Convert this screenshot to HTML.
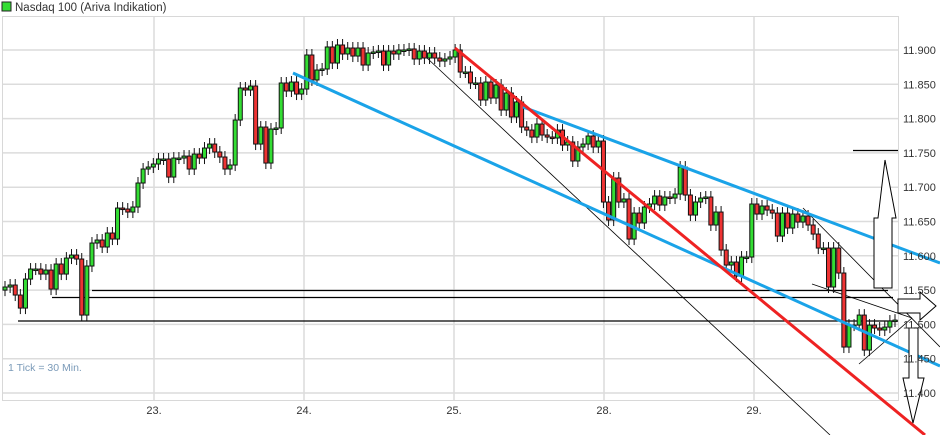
<!DOCTYPE html>
<html><head><meta charset="utf-8"><style>
body{margin:0;background:#fff;font-family:"Liberation Sans",sans-serif}
svg{display:block}
</style></head><body>
<svg id="chart" width="940" height="435" viewBox="0 0 940 435">
<rect x="0" y="0" width="940" height="435" fill="#fff"/>
<g>
<rect x="2" y="2" width="9" height="9" fill="#33dd33" stroke="#222" stroke-width="1"/>
<text x="15" y="11" font-size="11.5" fill="#333">Nasdaq 100 (Ariva Indikation)</text>
</g>
<g id="grid"></g>
<rect x="2.5" y="16.5" width="896" height="384" fill="none" stroke="#d8d8d8"/>
<g id="annot" fill="none">
<line x1="18" y1="321" x2="898" y2="321" stroke="#000" stroke-width="1.2"/>
<line x1="92" y1="290.5" x2="888" y2="290.5" stroke="#000" stroke-width="1.2"/>
<line x1="52" y1="297.5" x2="893" y2="297.5" stroke="#000" stroke-width="1.2"/>
<line x1="853" y1="150.5" x2="898" y2="150.5" stroke="#000" stroke-width="1.2"/>
<line x1="427" y1="58" x2="830" y2="435" stroke="#000" stroke-width="0.8"/>
<line x1="803" y1="208" x2="940" y2="347" stroke="#000" stroke-width="0.8"/>
<line x1="812" y1="284" x2="912" y2="318" stroke="#000" stroke-width="0.8"/>
<line x1="859" y1="364" x2="912" y2="318" stroke="#000" stroke-width="0.8"/>
</g>
<g id="candles"></g>
<g>
<line x1="293" y1="73" x2="940" y2="366" stroke="#1aa3e8" stroke-width="3"/>
<line x1="523" y1="107" x2="940" y2="263" stroke="#1aa3e8" stroke-width="3"/>
<line x1="455" y1="48" x2="925" y2="435" stroke="#ee2222" stroke-width="3"/>
</g>
<g fill="#fff" stroke="#000" stroke-width="1">
<path d="M874,288 L874,218 L878,218 L885,160 L896,218 L892,218 L892,288 Z"/>
<path d="M898,299 L920,299 L920,292 L936,306 L920,320 L920,313 L898,313 Z"/>
<path d="M906,328 L918,328 L918,378 L924,378 L913,423 L903,378 L909,378 L909,328 Z"/>
</g>
<g id="ylabels"></g>
<g id="xlabels"></g>
<text x="8" y="371" font-size="10.5" fill="#7a9ab8">1 Tick = 30 Min.</text>
</svg>
<script>
const closes=[11.5545,11.5574,11.5428,11.5238,11.5661,11.5807,11.5807,11.5734,11.5792,11.5515,11.5880,11.5734,11.5967,11.6011,11.5953,11.5136,11.5851,11.6186,11.6230,11.6128,11.6332,11.6244,11.6696,11.6682,11.6638,11.6711,11.7061,11.7265,11.7294,11.7338,11.7411,11.7411,11.7148,11.7425,11.7425,11.7454,11.7265,11.7483,11.7425,11.7571,11.7629,11.7513,11.7440,11.7265,11.7323,11.7979,11.8446,11.8417,11.8475,11.7629,11.7877,11.7352,11.7848,11.7863,11.8519,11.8402,11.8533,11.8358,11.8431,11.8927,11.8563,11.8708,11.8723,11.9044,11.8810,11.9073,11.8942,11.9029,11.8912,11.9029,11.8781,11.8956,11.8971,11.8985,11.8781,11.8985,11.8942,11.9000,11.9000,11.9015,11.8869,11.8985,11.8883,11.8956,11.8883,11.8839,11.8869,11.8898,11.9000,11.8679,11.8679,11.8519,11.8519,11.8271,11.8533,11.8300,11.8490,11.8125,11.8373,11.8023,11.8242,11.7877,11.7833,11.7731,11.7921,11.7761,11.7731,11.7717,11.7833,11.7615,11.7659,11.7382,11.7586,11.7629,11.7746,11.7586,11.7673,11.6784,11.6521,11.7134,11.6784,11.6828,11.6244,11.6623,11.6478,11.6711,11.6755,11.6871,11.6740,11.6857,11.6842,11.6900,11.7294,11.6886,11.6594,11.6784,11.6842,11.6857,11.6449,11.6638,11.6084,11.5865,11.5909,11.5705,11.5982,11.5982,11.6755,11.6609,11.6726,11.6667,11.6623,11.6288,11.6623,11.6405,11.6609,11.6492,11.6580,11.6449,11.6317,11.6113,11.6113,11.5545,11.6113,11.5749,11.4670,11.4990,11.4990,11.5136,11.4626,11.4990,11.4947,11.4918,11.4961,11.5049,11.5063];
const firstOpen=11.5500;
const yTicks=[11.9,11.85,11.8,11.75,11.7,11.65,11.6,11.55,11.5,11.45,11.4];
const dayLabels=["23.","24.","25.","28.","29."];
const dayIndex=[29,59,89,119,148];
const NS="http://www.w3.org/2000/svg";
function y(p){return 50+(11.9-p)/0.05*34.3;}
const n=closes.length;
function x(i){return 5+i*(890/(n-1));}
function el(t,a,parent){const e=document.createElementNS(NS,t);for(const k in a)e.setAttribute(k,a[k]);parent.appendChild(e);return e;}
const grid=document.getElementById('grid'),cg=document.getElementById('candles'),yl=document.getElementById('ylabels'),xl=document.getElementById('xlabels');
yTicks.forEach(t=>{
 const l=el('line',{x1:3,x2:898,y1:y(t),y2:y(t),stroke:'#dcdcdc','stroke-width':1.5},grid);
 
 
 const tx=el('text',{x:903,y:y(t)+4,'font-size':11,fill:'#333'},yl);
 tx.textContent=t.toFixed(3).replace('.','.');
 
 
});
dayLabels.forEach((d,k)=>{
 const xx=154+k*150;
 const l=el('line',{x1:xx,x2:xx,y1:17,y2:400,stroke:'#dcdcdc','stroke-width':1.5},grid);
 
 
 const tx=el('text',{x:xx,y:414,'font-size':11,fill:'#333','text-anchor':'middle'},xl);
 tx.textContent=d;
 
 
});
for(let i=0;i<n;i++){
 const o=i===0?firstOpen:closes[i-1],c=closes[i];
 const up=c>=o;
 const yt=Math.min(y(o),y(c)),yb=Math.max(y(o),y(c));
 const xx=x(i);
 const w=el('line',{x1:xx,x2:xx,y1:yt-6,y2:yb+6,stroke:'#111','stroke-width':1},cg);
 
 
 const r=el('rect',{x:xx-2,y:yt,width:4,height:Math.max(1.5,yb-yt),fill:up?'#33dd33':'#ee3333',stroke:'#111','stroke-width':1},cg);
 
 
}
</script>
</body></html>
